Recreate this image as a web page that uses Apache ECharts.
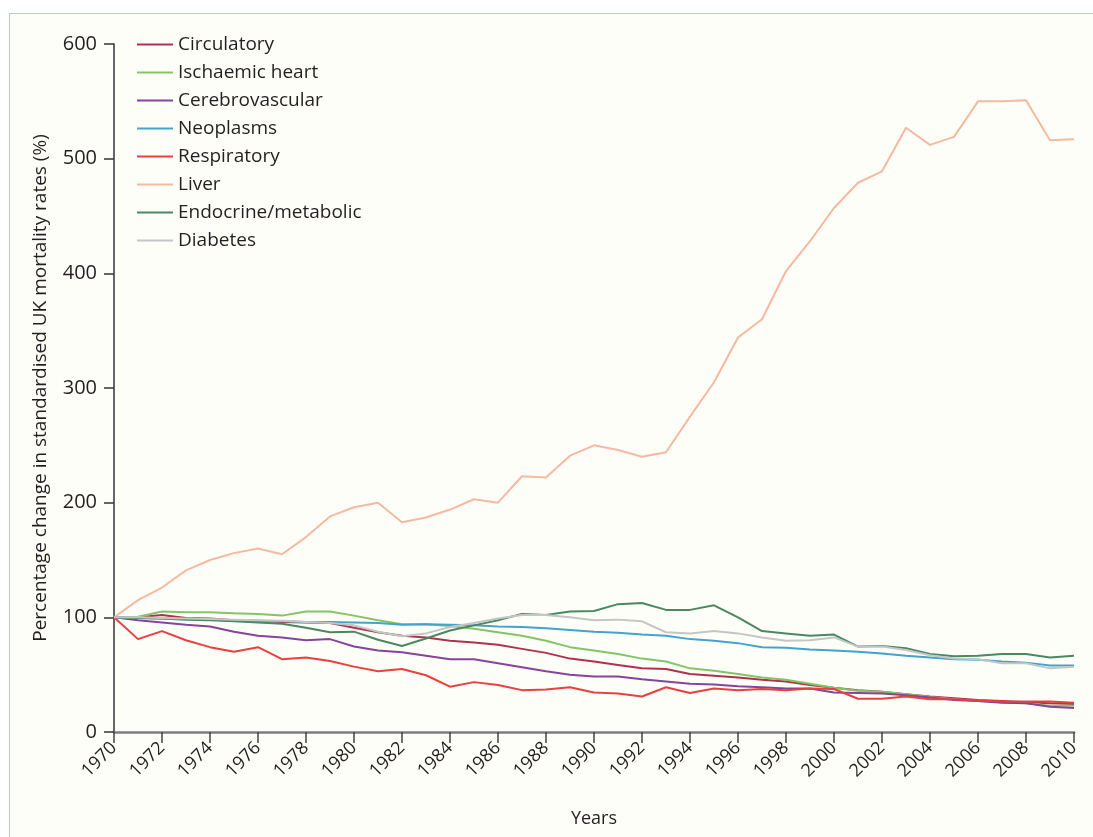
<!DOCTYPE html>
<html>
<head>
<meta charset="utf-8">
<script src="https://cdn.jsdelivr.net/npm/echarts@6.0.0/dist/echarts.min.js"></script>
<style>
	html, body { margin: 0; padding: 0; background: #ffffff; overflow: hidden; }
	#frame { position: absolute; left: 9px; top: 13px; width: 1200px; height: 1000px; border: 1.5px solid #b3cbe3; background: #fefef8; }
	#chart { position: absolute; left: 0; top: 0; width: 1093px; height: 837px; }
</style>
</head>
<body>
<div id="frame"></div>
<div id="chart"></div>
<script>
const years = [1970, 1971, 1972, 1973, 1974, 1975, 1976, 1977, 1978, 1979, 1980,
	1981, 1982, 1983, 1984, 1985, 1986, 1987, 1988, 1989, 1990,
	1991, 1992, 1993, 1994, 1995, 1996, 1997, 1998, 1999, 2000,
	2001, 2002, 2003, 2004, 2005, 2006, 2007, 2008, 2009, 2010];

const circulatory = [100, 100, 102, 99.5, 99, 97.5, 97, 96, 95.5, 95, 91,
	87, 84, 82.5, 79.5, 78, 76, 72.5, 69, 64, 61.5,
	58.5, 55.5, 55, 50.5, 49, 47.5, 45.5, 44, 41, 38.5,
	36.5, 35, 33, 31, 29.5, 28, 27, 26, 25, 24.5];

const ischaemic = [100, 100.5, 105, 104.5, 104.5, 103.5, 103, 101.5, 105, 105, 101.5,
	97.5, 94, 94, 92.5, 90, 87, 84, 79.5, 74, 71,
	68, 64, 61.5, 55.5, 53.5, 50.5, 47.5, 45.5, 42, 38.5,
	36, 35, 33, 30.5, 28.5, 27, 26, 25, 23, 23];

const cerebrovascular = [100, 97.5, 95.5, 93.5, 92, 87.5, 84, 82.5, 80, 81, 74.5,
	71, 69.5, 66.5, 63.5, 63.5, 60, 56.5, 53, 50, 48.5,
	48.5, 46, 44, 42, 41.5, 40, 39, 38, 38, 34.5,
	34, 33.5, 32, 30, 28, 27, 25.5, 25, 22, 21];

const neoplasms = [100, 99.5, 99, 98.5, 98, 97.5, 97, 96.5, 96, 96, 95.5,
	95, 93.5, 94, 93.5, 93, 92, 91.5, 90.5, 89, 87.5,
	86.5, 85, 84, 81, 79.5, 77.5, 74, 73.5, 72, 71,
	70, 68.5, 66.5, 65, 63.5, 63, 61.5, 60.5, 58, 58];

const respiratory = [100, 81, 88, 80, 74, 70, 74, 63.5, 65, 62, 57,
	53, 55, 49.5, 39.5, 43.5, 41, 36.5, 37, 39, 34.5,
	33.5, 31, 39, 34, 38, 36.5, 37.5, 36.5, 38, 37.5,
	29, 29, 31, 28.5, 28.5, 27.5, 26.5, 26.5, 26.5, 25.5];

const liver = [100, 115, 126, 141, 150, 156, 160, 155, 170, 188, 196,
	200, 183, 187, 194, 203, 200, 223, 222, 241, 250,
	246, 240, 244, 275, 305, 344, 360, 402, 428, 457,
	479, 489, 527, 512, 519, 550, 550, 551, 516, 517];

const endocrine = [100, 99.5, 99, 98, 97.5, 96.5, 95.5, 94.5, 91, 87, 87.5,
	80.5, 75, 81.5, 88.5, 93, 97.5, 103, 102, 105, 105.5,
	111.5, 112.5, 106.5, 106.5, 110.5, 100, 88, 86, 84, 85,
	74.5, 75, 73, 68, 66, 66.5, 68, 68, 65, 66.5];

const diabetes = [100, 100, 99.5, 99, 98.5, 98, 97.5, 97, 96, 95, 93,
	87.5, 83.5, 86, 91.5, 95, 99, 102, 102, 100, 97.5,
	98, 96.5, 87, 86, 88, 86, 82.5, 79.5, 80, 82.5,
	74.5, 74.5, 71.5, 67, 64, 63.5, 60, 60, 55.5, 57];

const yTicks = [0, 100, 200, 300, 400, 500, 600];

const fontFamily = '"Open Sans", "Noto Sans", sans-serif';
const textColor = '#231f20';

// name, values, colour
const lines = [
	['Circulatory', circulatory, '#b0314f'],
	['Ischaemic heart', ischaemic, '#84c466'],
	['Cerebrovascular', cerebrovascular, '#86449a'],
	['Neoplasms', neoplasms, '#43a3cc'],
	['Respiratory', respiratory, '#e8403f'],
	['Liver', liver, '#f5b9a2'],
	['Endocrine/metabolic', endocrine, '#4a8763'],
	['Diabetes', diabetes, '#c4c6c6']
];

const buildSeries = function () {
	return lines.map(function (line) {
		return {
			name: line[0],
			type: 'line',
			symbol: 'none',
			color: line[2],
			lineStyle: {
				width: 2,
				color: line[2]
			},
			data: years.map(function (year, index) {
				return [year, line[1][index]];
			})
		};
	});
};

const chart = echarts.init(document.getElementById('chart'), null, { renderer: 'canvas' });

const options = {
	backgroundColor: 'transparent',
	animation: false,
	textStyle: {
		fontFamily: fontFamily
	},
	grid: {
		left: 114,
		right: 19,
		top: 44,
		bottom: 105
	},
	legend: {
		orient: 'vertical',
		left: 137,
		top: 35,
		icon: 'rect',
		itemWidth: 36,
		itemHeight: 2,
		itemGap: 9,
		padding: 0,
		textStyle: {
			fontFamily: fontFamily,
			fontSize: 19,
			color: textColor
		},
		data: lines.map(function (line) { return line[0]; })
	},
	xAxis: {
		type: 'value',
		min: 1970,
		max: 2010,
		interval: 2,
		name: 'Years',
		nameLocation: 'middle',
		nameGap: 78,
		nameTextStyle: {
			fontFamily: fontFamily,
			fontSize: 18,
			color: textColor
		},
		axisLine: {
			lineStyle: {
				color: '#7d7d7d',
				width: 2.5
			}
		},
		axisTick: {
			length: 11,
			lineStyle: {
				color: '#444',
				width: 1.5
			}
		},
		axisLabel: {
			rotate: 45,
			margin: 13,
			fontSize: 18,
			color: textColor,
			formatter: function (v) { return String(v); }
		},
		splitLine: {
			show: false
		}
	},
	yAxis: {
		type: 'value',
		min: yTicks[0],
		max: yTicks[yTicks.length - 1],
		interval: 100,
		name: 'Percentage change in standardised UK mortality rates (%)',
		nameLocation: 'middle',
		nameGap: 64,
		nameTextStyle: {
			fontFamily: fontFamily,
			fontSize: 19,
			color: textColor
		},
		axisLine: {
			show: true,
			lineStyle: {
				color: '#333',
				width: 1.5
			}
		},
		axisTick: {
			show: true,
			length: 10,
			lineStyle: {
				color: '#333',
				width: 1.5
			}
		},
		axisLabel: {
			margin: 17,
			fontSize: 20,
			color: textColor
		},
		splitLine: {
			show: false
		}
	},
	series: buildSeries()
};

chart.setOption(options);
</script>
</body>
</html>
